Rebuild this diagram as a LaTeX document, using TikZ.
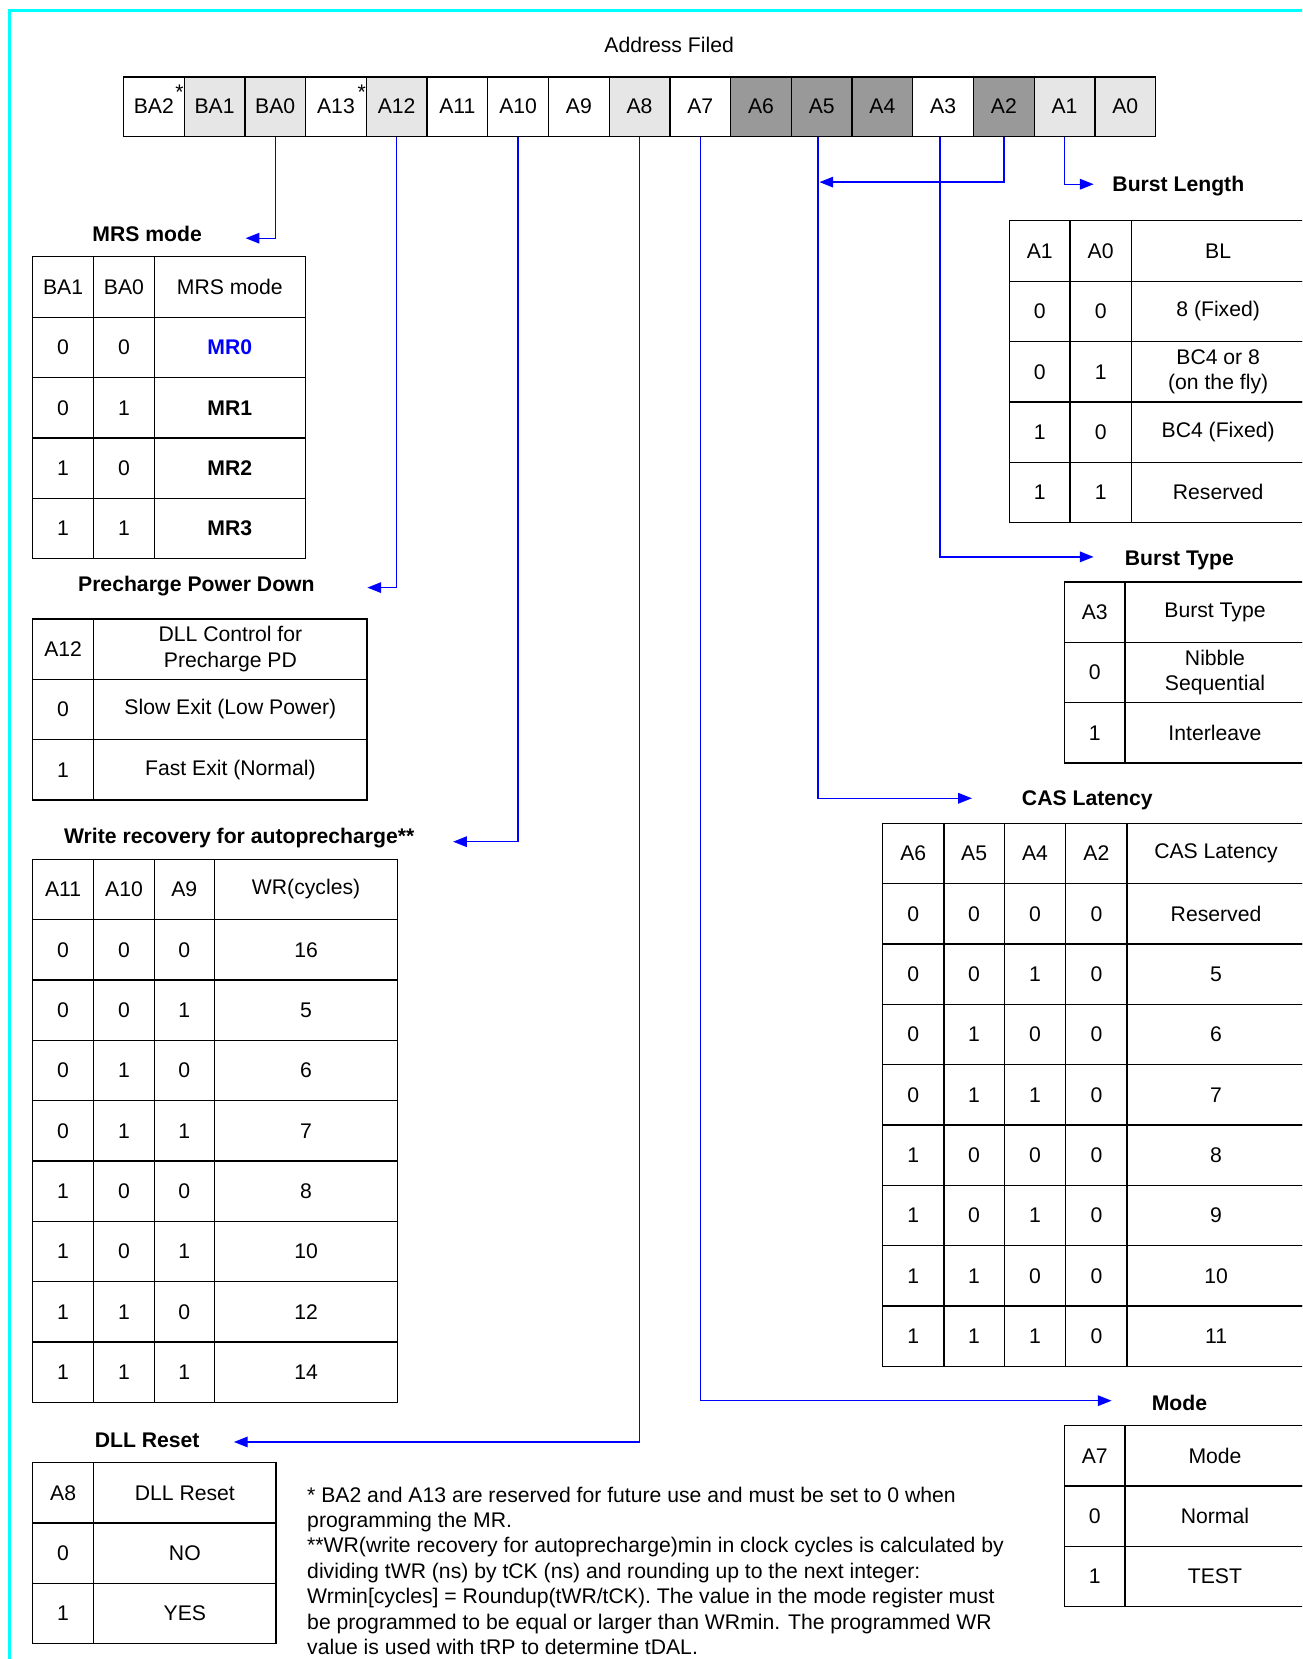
\documentclass[tikz,border=0pt]{standalone}
\usepackage{fontspec}
\setmainfont{Liberation Sans}
\usetikzlibrary{arrows.meta, positioning}

\definecolor{lgray}{HTML}{E6E6E6}
\definecolor{dgray}{HTML}{999999}
\definecolor{linkblue}{HTML}{0000FF}
\definecolor{framecyan}{HTML}{00FFFF}
\newcommand{\mrblue}[1]{\textbf{\color{linkblue}#1}}

\begin{document}
\begin{tikzpicture}[
    x=1pt, y=-1pt,
    font=\fontsize{20}{24}\selectfont,
    % Styles
    cell/.style={draw, line width=1.2pt, anchor=north west, minimum height=57pt, inner sep=0pt, align=center},
    bit/.style={cell, minimum width=57.35pt, minimum height=56pt},
    title/.style={font=\fontsize{20}{24}\selectfont\bfseries},
    starmark/.style={font=\fontsize{20}{20}\selectfont, inner sep=0pt},
    link/.style={draw=linkblue, line width=1.3pt, -{Triangle[length=13pt, width=10pt]}},
    note/.style={anchor=north west, align=left, inner sep=0pt}
]
\useasboundingbox (0,0) rectangle (1230,1567);
\clip (0,0) rectangle (1230,1567);

% --- Frame ---
\draw[framecyan, line width=3pt] (9,10) rectangle (1300,1650);

% --- Address field ---
\node (addr_title) at (632,42) {Address Filed};
\foreach \lbl/\fillc [count=\i from 0] in {BA2/white, BA1/lgray, BA0/lgray, A13/white, A12/lgray, A11/white, A10/white, A9/white, A8/lgray, A7/white, A6/dgray, A5/dgray, A4/dgray, A3/white, A2/dgray, A1/lgray, A0/lgray}
    \node[bit, fill=\fillc] (b\lbl) at ({116+57.35*\i},72) {\lbl};
\node[starmark] (star_ba2) at ([xshift=-5pt, yshift=-15pt]bBA2.north east) {*};
\node[starmark] (star_a13) at ([xshift=-5pt, yshift=-15pt]bA13.north east) {*};

% --- Titles ---
\node[title] (mrs_title) at (139,221) {MRS mode};
\node[title] (pre_title) at (185.5,554) {Precharge Power Down};
\node[title] (wr_title) at (226,792) {Write recovery for autoprecharge**};
\node[title] (dll_title) at (139,1360) {DLL Reset};
\node[title] (bl_title) at (1113,176) {Burst Length};
\node[title] (bt_title) at (1114,529) {Burst Type};
\node[title] (cas_title) at (1027,756) {CAS Latency};
\node[title] (mode_title) at (1114,1325) {Mode};

% --- Arrow ends ---
\coordinate (mrs_in) at (232,225);
\coordinate (pre_in) at (347,555);
\coordinate (wr_in) at (428,795);
\coordinate (dll_in) at (221,1362);
\coordinate (bl_in) at (1033,174);
\coordinate (bt_in) at (1033,526);
\coordinate (cas_in) at (918,754);
\coordinate (mode_in) at (1050,1323);
\coordinate (cas_join) at (774,172);

\draw[link] (bBA0.south) |- (mrs_in);
\draw[link] (bA12.south) |- (pre_in);
\draw[link] (bA10.south) |- (wr_in);
\draw[link] (bA8.south) |- (dll_in);
\draw[link] (bA7.south) |- (mode_in);
\draw[link] ([xshift=-3.5pt]bA5.south) |- (cas_in);
\draw[link] ([xshift=-3pt]bA3.south) |- (bt_in);
\draw[link] (bA2.south) |- (cas_join);
\draw[link] (bA1.south) |- (bl_in);

% --- MRS mode table ---
\foreach \ba/\bb/\mode [count=\r from 0] in {BA1/BA0/MRS mode, 0/0/{\mrblue{MR0}}, 0/1/{\textbf{MR1}}, 1/0/{\textbf{MR2}}, 1/1/{\textbf{MR3}}} {
    \node[cell, minimum width=58pt] (mrs-\r-a) at (30,{242+57*\r}) {\ba};
    \node[cell, minimum width=57pt] (mrs-\r-b) at (88,{242+57*\r}) {\bb};
    \node[cell, minimum width=143pt] (mrs-\r-c) at (145,{242+57*\r}) {\mode};
}

% --- Precharge PD table ---
\foreach \ba/\bb [count=\r from 0] in {A12/{DLL Control for\\Precharge PD}, 0/Slow Exit (Low Power), 1/Fast Exit (Normal)} {
    \node[cell, minimum width=58pt] (pre-\r-a) at (30,{584+57*\r}) {\ba};
    \node[cell, minimum width=258pt] (pre-\r-b) at (88,{584+57*\r}) {\bb};
}

% --- Write recovery table ---
\foreach \ba/\bb/\bc/\wr [count=\r from 0] in {A11/A10/A9/WR(cycles), 0/0/0/16, 0/0/1/5, 0/1/0/6, 0/1/1/7, 1/0/0/8, 1/0/1/10, 1/1/0/12, 1/1/1/14} {
    \node[cell, minimum width=58pt] (wr-\r-a) at (30,{811+57*\r}) {\ba};
    \node[cell, minimum width=57pt] (wr-\r-b) at (88,{811+57*\r}) {\bb};
    \node[cell, minimum width=57pt] (wr-\r-c) at (145,{811+57*\r}) {\bc};
    \node[cell, minimum width=173pt] (wr-\r-d) at (202,{811+57*\r}) {\wr};
}

% --- DLL Reset table ---
\foreach \ba/\bb [count=\r from 0] in {A8/DLL Reset, 0/NO, 1/YES} {
    \node[cell, minimum width=58pt] (dll-\r-a) at (30,{1381+57*\r}) {\ba};
    \node[cell, minimum width=172pt] (dll-\r-b) at (88,{1381+57*\r}) {\bb};
}

% --- Burst Length table ---
\foreach \ba/\bb/\bl [count=\r from 0] in {A1/A0/BL, 0/0/8 (Fixed), 0/1/{BC4 or 8\\(on the fly)}, 1/0/BC4 (Fixed), 1/1/Reserved} {
    \node[cell, minimum width=57pt] (bl-\r-a) at (953,{208+57*\r}) {\ba};
    \node[cell, minimum width=58pt] (bl-\r-b) at (1010,{208+57*\r}) {\bb};
    \node[cell, minimum width=164pt] (bl-\r-c) at (1068,{208+57*\r}) {\bl};
}

% --- Burst Type table ---
\foreach \ba/\bt [count=\r from 0] in {A3/Burst Type, 0/{Nibble\\Sequential}, 1/Interleave} {
    \node[cell, minimum width=57pt] (bt-\r-a) at (1005,{549+57*\r}) {\ba};
    \node[cell, minimum width=170pt] (bt-\r-b) at (1062,{549+57*\r}) {\bt};
}

% --- CAS Latency table ---
\foreach \ba/\bb/\bc/\bd/\cl [count=\r from 0] in {A6/A5/A4/A2/CAS Latency, 0/0/0/0/Reserved, 0/0/1/0/5, 0/1/0/0/6, 0/1/1/0/7, 1/0/0/0/8, 1/0/1/0/9, 1/1/0/0/10, 1/1/1/0/11} {
    \node[cell, minimum width=58pt] (cas-\r-a) at (833,{777+57*\r}) {\ba};
    \node[cell, minimum width=57pt] (cas-\r-b) at (891,{777+57*\r}) {\bb};
    \node[cell, minimum width=58pt] (cas-\r-c) at (948,{777+57*\r}) {\bc};
    \node[cell, minimum width=58pt] (cas-\r-d) at (1006,{777+57*\r}) {\bd};
    \node[cell, minimum width=168pt] (cas-\r-e) at (1064,{777+57*\r}) {\cl};
}

% --- Mode table ---
\foreach \ba/\md [count=\r from 0] in {A7/Mode, 0/Normal, 1/TEST} {
    \node[cell, minimum width=57pt] (mode-\r-a) at (1005,{1346+57*\r}) {\ba};
    \node[cell, minimum width=170pt] (mode-\r-b) at (1062,{1346+57*\r}) {\md};
}

% --- Footnote ---
\node[note] (footnote) at (290,1404) {* BA2 and A13 are reserved for future use and must be set to 0 when\\
programming the MR.\\
**WR(write recovery for autoprecharge)min in clock cycles is calculated by\\
dividing tWR (ns) by tCK (ns) and rounding up to the next integer:\\
Wrmin[cycles] = Roundup(tWR/tCK). The value in the mode register must\\
be programmed to be equal or larger than WRmin. The programmed WR\\
value is used with tRP to determine tDAL.};

\end{tikzpicture}
\end{document}
